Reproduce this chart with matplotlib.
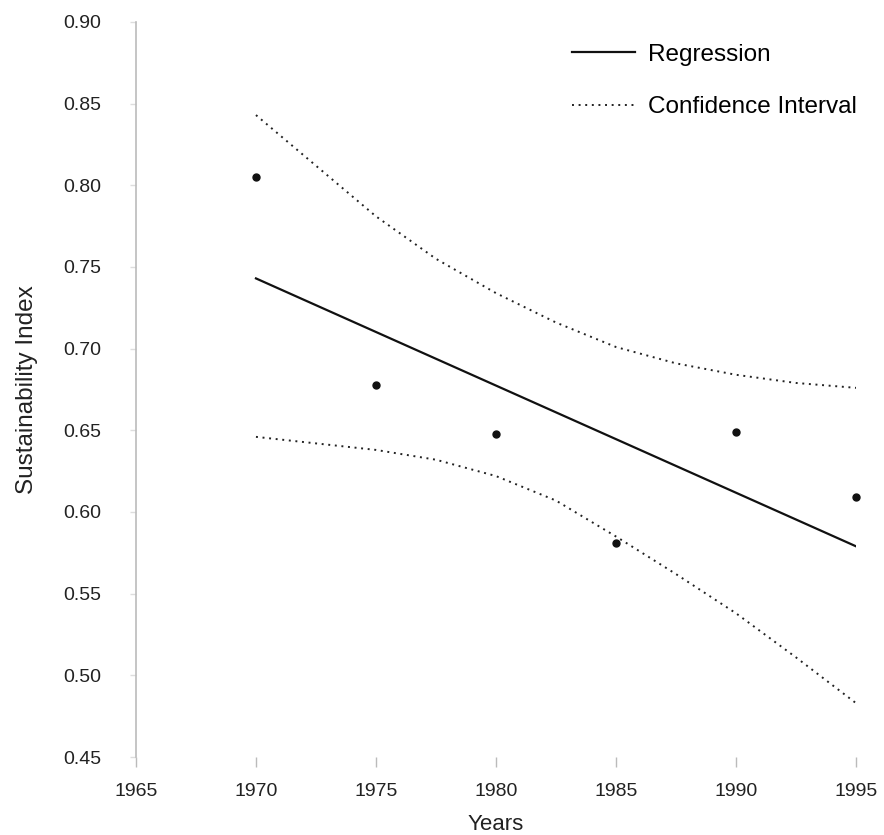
import matplotlib
matplotlib.use("Agg")
import matplotlib.pyplot as plt

plt.rcParams['font.family'] = ['Liberation Sans', 'DejaVu Sans']

# observed sustainability index
years = [1970, 1975, 1980, 1985, 1990, 1995]
index_values = [0.805, 0.678, 0.648, 0.581, 0.649, 0.609]

# regression line end points
reg_years = [1970, 1995]
reg_values = [0.743, 0.579]

# confidence band
ci_years = [1970, 1972.5, 1975, 1977.5, 1980, 1982.5, 1985, 1987.5, 1990, 1992.5, 1995]
ci_upper = [0.843, 0.812, 0.781, 0.755, 0.734, 0.716, 0.701, 0.691, 0.684, 0.679, 0.676]
ci_lower = [0.646, 0.642, 0.638, 0.632, 0.622, 0.607, 0.585, 0.562, 0.538, 0.511, 0.483]

xticks = [1965, 1970, 1975, 1980, 1985, 1990, 1995]
yticks = [0.45, 0.50, 0.55, 0.60, 0.65, 0.70, 0.75, 0.80, 0.85, 0.90]

fig = plt.figure(figsize=(8.84, 8.35), dpi=100)
ax = fig.add_axes([0.1538, 0.0934, 0.8145, 0.8803])

ax.plot(reg_years, reg_values, color='#111111', lw=1.6, label='Regression')
ax.plot(ci_years, ci_upper, color='#222222', lw=1.4, linestyle=(0, (1, 2.4)),
        label='Confidence Interval')
ax.plot(ci_years, ci_lower, color='#222222', lw=1.4, linestyle=(0, (1, 2.4)))
ax.plot(years, index_values, 'o', color='#111111', ms=5, clip_on=False)

ax.set_xlim(1965, 1995)
ax.set_ylim(0.45, 0.90)
ax.set_xticks(xticks)
ax.set_yticks(yticks)
ax.set_yticklabels([f'{v:.2f}' for v in yticks])

for side in ['top', 'right', 'bottom']:
    ax.spines[side].set_visible(False)
ax.spines['left'].set_color('#bbbbbb')
ax.spines['left'].set_linewidth(1.2)

ax.tick_params(axis='x', direction='out', length=7.5, width=1, color='#bbbbbb',
               pad=11, labelsize=14, labelcolor='#222222')
ax.tick_params(axis='y', direction='out', length=4, width=1, color='#dddddd',
               pad=21, labelsize=14, labelcolor='#222222')

ax.set_xlabel('Years', fontsize=16, color='#222222', labelpad=10)
ax.set_ylabel('Sustainability Index', fontsize=17.5, color='#222222', labelpad=18)

ax.legend(loc='upper left', bbox_to_anchor=(0.575, 1.0), frameon=False,
          fontsize=17.5, handlelength=2.6, handletextpad=0.55, labelspacing=1.25)

fig.savefig('out.png', dpi=100)
